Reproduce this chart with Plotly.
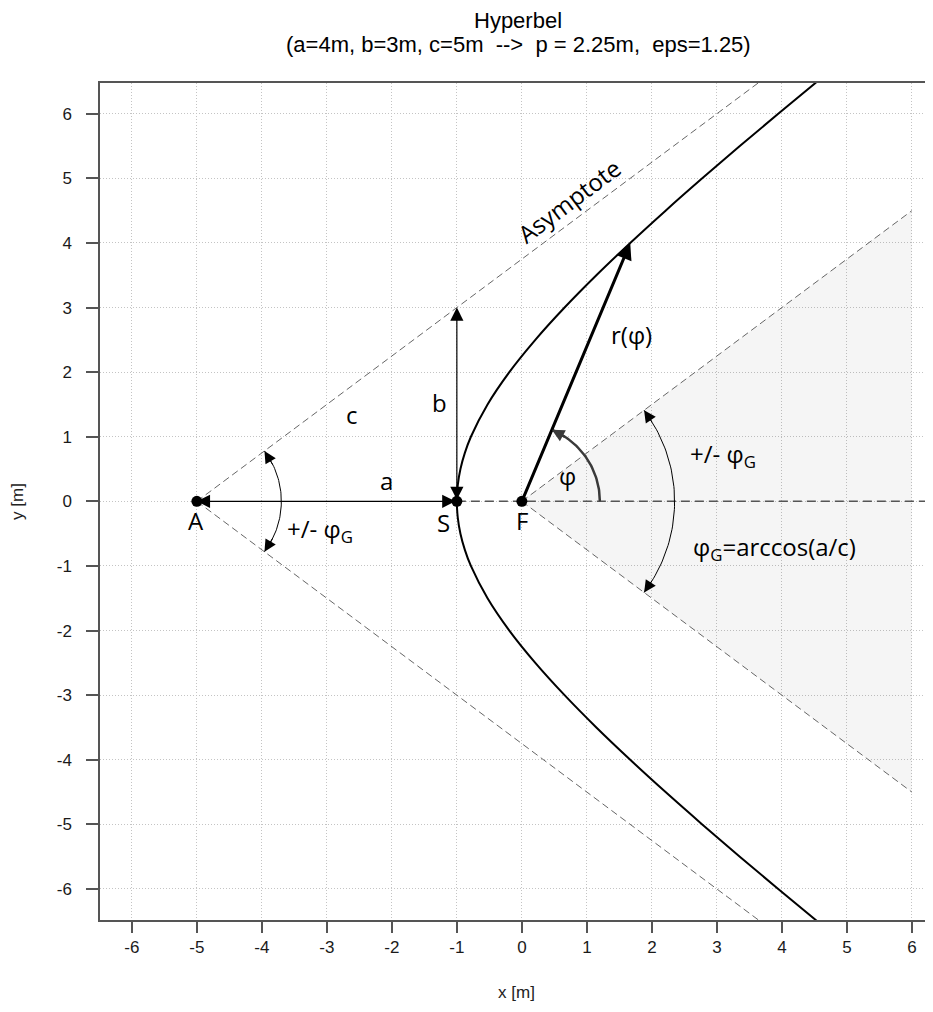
import numpy as np
import plotly.graph_objects as go

# ---------------- data ----------------
title_lines = ["Hyperbel", "(a=4m, b=3m, c=5m  -->  p = 2.25m,  eps=1.25)"]
a_len, b_len, c_len = 4, 3, 5

# right branch of the hyperbola
hyp_y = [-7.0, -6.5, -6.0, -5.5, -5.0, -4.5, -4.0, -3.5, -3.0, -2.5, -2.0, -1.5, -1.0,
         -0.75, -0.5, -0.25, 0.0, 0.25, 0.5, 0.75, 1.0, 1.5, 2.0, 2.5, 3.0, 3.5, 4.0,
         4.5, 5.0, 5.5, 6.0, 6.5, 7.0]
hyp_x = [5.154, 4.545, 3.944, 3.353, 2.775, 2.211, 1.667, 1.146, 0.657, 0.207, -0.193,
         -0.528, -0.784, -0.877, -0.945, -0.986, -1.0, -0.986, -0.945, -0.877, -0.784,
         -0.528, -0.193, 0.207, 0.657, 1.146, 1.667, 2.211, 2.775, 3.353, 3.944, 4.545, 5.154]

pt_names = ["A", "S", "F"]
pt_x = [-5, -1, 0]
pt_y = [0, 0, 0]

asym_x = [-5, 5.0]
asym_up_y = [0, 7.5]
asym_dn_y = [0, -7.5]

par_x = [0, 6]
par_up_y = [0, 4.5]
par_dn_y = [0, -4.5]

shade_x = [0, 6, 6, 0]
shade_y = [0, 4.5, -4.5, 0]

hline_x = [-1, 7]
hline_y = [0, 0]

r_end_x, r_end_y = 1.667, 4.0
b_top = 3.0

# arcs: center x, center y, radius, start deg, end deg
phiG = float(np.degrees(np.arccos(a_len / c_len)))
phi_r = float(np.degrees(np.arctan2(r_end_y, r_end_x)))
arc_A = (-5.0, 0.0, 1.3, -phiG, phiG)
arc_F = (0.0, 0.0, 2.35, -phiG, phiG)
arc_phi = (0.0, 0.0, 1.2, 0.0, phi_r)

ticks = list(range(-6, 7))

TXT = dict(family="Open Sans, Noto Sans, sans-serif", size=24, color="black")
SANS = "Liberation Sans, Arial, sans-serif"

# page geometry (the page body has an 8px margin)
FIG_W, FIG_H = 925, 1004
M_L, M_T, M_B, M_R = 92, 75, 92, 0

fig = go.Figure()

def arc_pts(arc, n=60):
    cx, cy, r, d0, d1 = arc
    t = np.radians(np.linspace(d0, d1, n))
    return cx + r * np.cos(t), cy + r * np.sin(t)

def ang_pt(arc, d):
    cx, cy, r, _, _ = arc
    return cx + r * np.cos(np.radians(d)), cy + r * np.sin(np.radians(d))

# shaded region
fig.add_trace(go.Scatter(x=shade_x, y=shade_y, fill="toself", mode="none",
                         fillcolor="rgba(0,0,0,0.04)", hoverinfo="skip"))

dash_style = dict(color="#666666", width=1, dash="7px,4px")
for xs, ys in [(asym_x, asym_up_y), (asym_x, asym_dn_y), (par_x, par_up_y), (par_x, par_dn_y)]:
    fig.add_trace(go.Scatter(x=xs, y=ys, mode="lines", line=dash_style, hoverinfo="skip"))
fig.add_trace(go.Scatter(x=hline_x, y=hline_y, mode="lines",
                         line=dict(color="#555555", width=1.5, dash="9px,5px"), hoverinfo="skip"))

# hyperbola
fig.add_trace(go.Scatter(x=hyp_x, y=hyp_y, mode="lines", line=dict(color="black", width=2),
                         line_shape="spline", hoverinfo="skip"))

# arcs
for arc, col, w in [(arc_A, "black", 1), (arc_F, "black", 1), (arc_phi, "#3a3a3a", 2.5)]:
    ax_, ay_ = arc_pts(arc)
    fig.add_trace(go.Scatter(x=ax_, y=ay_, mode="lines", line=dict(color=col, width=w),
                             hoverinfo="skip"))

anns = []

def arrow(x, y, ax, ay, width=1, size=1.6, color="black", both=False):
    anns.append(dict(x=x, y=y, ax=ax, ay=ay, xref="x", yref="y", axref="x", ayref="y",
                     text="", showarrow=True, arrowhead=2, startarrowhead=2,
                     arrowsize=size, startarrowsize=size, arrowwidth=width,
                     arrowcolor=color, arrowside="end+start" if both else "end",
                     standoff=0, startstandoff=0))

# a and b arrows
arrow(pt_x[0], 0, pt_x[1], 0, width=1.2, size=2.2, both=True)
arrow(pt_x[1], b_top, pt_x[1], 0, width=1.2, size=2.2, both=True)
# r(phi)
arrow(r_end_x, r_end_y, 0, 0, width=3, size=1.1)

# arc arrowheads
for arc, d_end, d_prev, col, w, s in [
        (arc_A, phiG, phiG - 12, "black", 1, 2.4),
        (arc_A, -phiG, -phiG + 12, "black", 1, 2.4),
        (arc_F, phiG, phiG - 6, "black", 1, 2.4),
        (arc_F, -phiG, -phiG + 6, "black", 1, 2.4),
        (arc_phi, phi_r, phi_r - 12, "#3a3a3a", 2.5, 1.0)]:
    x1, y1 = ang_pt(arc, d_end)
    x0, y0 = ang_pt(arc, d_prev)
    arrow(x1, y1, x0, y0, width=w, size=s, color=col)

# points
fig.add_trace(go.Scatter(x=pt_x, y=pt_y, mode="markers", marker=dict(color="black", size=11),
                         hoverinfo="skip"))

def label(x, y, t, angle=0):
    anns.append(dict(x=x, y=y, xref="x", yref="y", text=t, showarrow=False,
                     font=TXT, textangle=angle))

label(-5.02, -0.3, "A")
label(-1.2, -0.32, "S")
label(0.0, -0.3, "F")
label(-2.62, 1.34, "c")
label(-1.27, 1.53, "b")
label(-2.08, 0.32, "a")
label(-3.1, -0.45, "+/- φ<sub>G</sub>")
label(1.68, 2.58, "r(φ)")
label(0.7, 0.4, "φ")
label(3.1, 0.72, "+/- φ<sub>G</sub>")
label(3.88, -0.72, "φ<sub>G</sub>=arccos(a/c)")
label(0.73, 4.65, "Asymptote", angle=-36.87)

# title (two lines, placed in page pixels, converted to plot-area paper coords)
plot_top, plot_bot = M_T, FIG_H - M_B
for yy, txt in [(12, title_lines[0]), (37, title_lines[1])]:
    anns.append(dict(x=(510 - M_L) / (FIG_W - M_L - M_R),
                     y=(plot_bot - yy) / (plot_bot - plot_top),
                     xref="paper", yref="paper", text=txt,
                     showarrow=False, yanchor="middle", xanchor="center",
                     font=dict(family=SANS, size=22, color="black")))

fig.update_layout(
    annotations=anns,
    width=FIG_W, height=FIG_H,
    margin=dict(l=M_L, r=M_R, t=M_T, b=M_B, autoexpand=False),
    paper_bgcolor="white", plot_bgcolor="white",
    showlegend=False,
    font=dict(family=SANS, size=17, color="#222222"),
)

GRID = dict(showgrid=True, gridcolor="#c4c4c4", griddash="1px,2px", gridwidth=1)

fig.update_xaxes(range=[-6.49, 6.325], tickvals=ticks, ticktext=[str(t) for t in ticks],
                 automargin=False, **GRID,
                 zeroline=False, showline=True, linecolor="#555555", linewidth=1.5, mirror=True,
                 ticks="outside", ticklen=11, tickcolor="#555555", tickwidth=1.5,
                 ticklabelstandoff=0, tickfont=dict(family=SANS, size=17, color="#1a1a1a"),
                 title=dict(text="x [m]", standoff=30, font=dict(family=SANS, size=17, color="#222222")))
fig.update_yaxes(range=[-6.48, 6.476], tickvals=ticks, ticktext=[str(t) for t in ticks],
                 automargin=False, **GRID,
                 zeroline=False, showline=True, linecolor="#555555", linewidth=1.5, mirror=False,
                 ticks="outside", ticklen=12, tickcolor="#555555", tickwidth=1.5,
                 ticklabelstandoff=11, tickfont=dict(family=SANS, size=17, color="#1a1a1a"),
                 title=dict(text="y [m]", standoff=32, font=dict(family=SANS, size=17, color="#222222")))

fig.write_html("out.html")
